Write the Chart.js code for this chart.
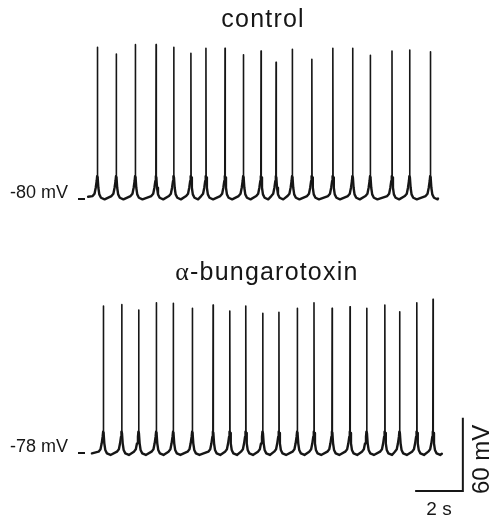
<!DOCTYPE html>
<html>
<head>
<meta charset="utf-8">
<script src="https://cdn.jsdelivr.net/npm/chart.js@4.4.1/dist/chart.umd.min.js"></script>
<style>
html,body{margin:0;padding:0;background:#fff;}
#wrap{width:491px;height:521px;position:relative;}
.box{position:absolute;left:0;width:491px;}
#top{top:0;height:260px;}
#bot{top:260px;height:261px;}
</style>
</head>
<body>
<div id="wrap">
  <div class="box" id="top"><canvas id="ctrlChart"></canvas></div>
  <div class="box" id="bot"><canvas id="btxChart"></canvas></div>
</div>
<script>
// control trace: spike times (s) and spike peaks (mV)
const ctrlSpikeTimes = [0.52,1.31,2.11,2.98,3.72,4.44,5.07,5.87,6.64,7.38,8.01,8.69,9.51,10.39,11.22,11.96,12.87,13.61,14.48];
const ctrlPeaks      = [44.1,38.7,46.3,46.3,44.1,39.2,43.3,43.3,38.1,41.1,31.9,42.5,34.3,43.3,43.3,37.6,41.1,41.9,40.5];
const ctrlRest = -80.3;            // trough level between spikes
const ctrlStart = [0.13, -78.2];   // [s, mV]
const ctrlEnd   = [14.80, -79.6];

// alpha-bungarotoxin trace
const btxSpikeTimes = [0.77,1.54,2.25,2.99,3.70,4.50,5.37,6.07,6.74,7.45,8.13,8.90,9.60,10.36,11.11,11.81,12.57,13.19,13.91,14.59];
const btxPeaks      = [42.3,43.4,39.0,45.0,44.5,40.4,43.1,38.2,42.3,36.3,37.1,40.4,45.0,40.4,41.7,40.4,43.1,37.6,45.0,47.8];
const btxRest = -79.6;
const btxStart = [0.29, -78.3];
const btxEnd   = [14.96, -78.6];

// one action potential around its peak: time offset (s) and mV above the trough (null = peak)
const apDt = [-0.2, -0.12, -0.07, -0.03, -0.01, 0, 0.01, 0.04, 0.08, 0.15, 0.3];
const apDv = [2.7, 4.6, 9.5, 15, 19, null, 18, 9.5, 4.1, 1.3, 0];

const INK = '#161616';
const SANS = '"Liberation Sans", Arial, sans-serif';

function trace(times, peaks, rest, start, end){
  const pts = [{x:start[0], y:start[1]}];
  times.forEach((t,i)=>{
    const prev = i ? times[i-1] : -Infinity, next = i<times.length-1 ? times[i+1] : Infinity;
    apDt.forEach((d,j)=>{
      const x = t + d;
      if(x <= start[0] || x >= end[0]) return;
      if(d < 0 && x <= (prev+t)/2) return;
      if(d > 0 && x >= (t+next)/2) return;
      pts.push({x, y: apDv[j]===null ? peaks[i] : rest + apDv[j]});
    });
  });
  pts.push({x:end[0], y:end[1]});
  return pts;
}

const titlePlugin = {
  id:'traceTitle',
  afterDraw(chart, args, o){
    const {ctx, scales:{x}} = chart, ds = chart.data.datasets[0].data;
    const cx = (x.getPixelForValue(ds[0].x) + x.getPixelForValue(ds[ds.length-1].x))/2;
    ctx.save();
    ctx.fillStyle = INK; ctx.textBaseline = 'alphabetic';
    ctx.letterSpacing = '1.2px';
    const parts = o.parts.map(p=>{ ctx.font = p.font; return {...p, w: ctx.measureText(p.text).width}; });
    let px = cx - parts.reduce((s,p)=>s+p.w,0)/2;
    parts.forEach(p=>{ ctx.font = p.font; ctx.textAlign='left'; ctx.fillText(p.text, px, o.y); px += p.w; });
    ctx.restore();
  }
};

const scaleBarPlugin = {
  id:'scaleBar',
  afterDraw(chart, args, o){
    if(!o.show) return;
    const {ctx, scales:{x,y}} = chart;
    const x1 = x.getPixelForValue(o.t), x0 = x.getPixelForValue(o.t - o.dur);
    const y0 = y.getPixelForValue(o.v), y1 = y.getPixelForValue(o.v + o.amp);
    ctx.save();
    ctx.strokeStyle = INK; ctx.lineWidth = 2;
    ctx.beginPath(); ctx.moveTo(x0, y0); ctx.lineTo(x1, y0); ctx.lineTo(x1, y1); ctx.stroke();
    ctx.fillStyle = INK;
    ctx.font = '19px ' + SANS; ctx.textAlign = 'center'; ctx.textBaseline = 'alphabetic';
    ctx.fillText(o.dur + ' s', (x0+x1)/2, y0 + 24);
    ctx.translate(x1 + 26, (y0+y1)/2 + 5); ctx.rotate(-Math.PI/2);
    ctx.font = '24px ' + SANS;
    ctx.fillText(o.amp + ' mV', 0, 0);
    ctx.restore();
  }
};

function makeChart(id, pts, rest, yMin, yMax, title, bar){
  const spikeTop = rest + 25;
  return new Chart(document.getElementById(id), {
    type:'line',
    data:{datasets:[{
      data:pts, borderColor:INK, borderWidth:2, borderJoinStyle:'round', borderCapStyle:'round',
      pointRadius:0, tension:0, fill:false,
      segment:{borderWidth: c => (c.p0.parsed.y > spikeTop || c.p1.parsed.y > spikeTop) ? 1.6 : 2.4}
    }]},
    options:{
      responsive:true, maintainAspectRatio:false, animation:false,
      layout:{padding:{left:0, right:21, top:0, bottom:0}},
      plugins:{legend:{display:false}, tooltip:{enabled:false}, traceTitle:title, scaleBar:bar},
      scales:{
        x:{type:'linear', display:false, min:0, max:16.14},
        y:{
          min:yMin, max:yMax,
          afterFit: s => { s.width = 85; s.paddingTop = 0; s.paddingBottom = 0; },
          afterBuildTicks: s => { s.ticks = [{value: rest}]; },
          border:{display:false},
          grid:{drawOnChartArea:false, tickLength:7, lineWidth:2, color:INK},
          ticks:{padding:10, labelOffset:-6, color:INK, font:{family:SANS, size:18}, callback: v => v + ' mV'}
        }
      }
    },
    plugins:[titlePlugin, scaleBarPlugin]
  });
}

makeChart('ctrlChart', trace(ctrlSpikeTimes, ctrlPeaks, ctrlRest, ctrlStart, ctrlEnd), -80, -129.92, 82.85,
  {y:27, parts:[{text:'control', font:'25px '+SANS}]}, {show:false});
makeChart('btxChart', trace(btxSpikeTimes, btxPeaks, btxRest, btxStart, btxEnd), -78, -133.64, 79.94,
  {y:20, parts:[{text:'\u03b1', font:'26px "Liberation Serif", serif'}, {text:'-bungarotoxin', font:'25px '+SANS}]},
  {show:true, t:15.84, dur:2, v:-109.1, amp:60});
</script>
</body>
</html>
